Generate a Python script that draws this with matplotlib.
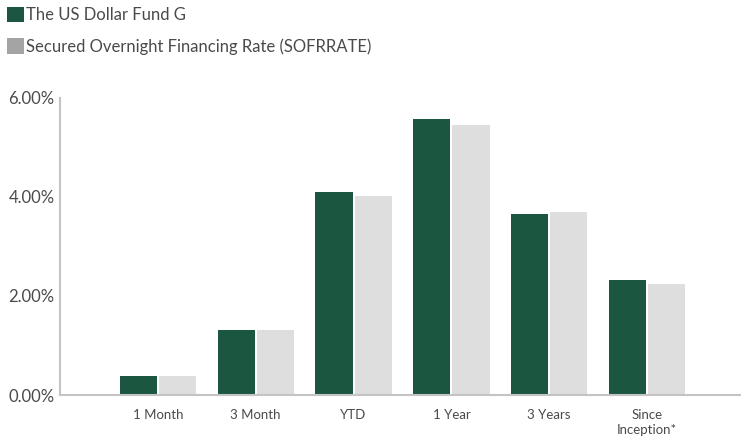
import numpy as np
import matplotlib
matplotlib.use("Agg")
import matplotlib.pyplot as plt
from matplotlib.patches import Patch
from matplotlib.ticker import FuncFormatter

categories = ['1 Month', '3 Month', 'YTD', '1 Year', '3 Years', 'Since\nInception*']
fund_g = [0.38, 1.31, 4.11, 5.58, 3.66, 2.32]
sofr = [0.38, 1.31, 4.03, 5.45, 3.69, 2.24]
series_names = ['The US Dollar Fund G', 'Secured Overnight Financing Rate (SOFRRATE)']

green = '#1b5640'
light = '#dedede'
legend_gray = '#a3a5a4'
text_col = '#4a4a4a'

plt.rcParams['font.family'] = ['Lato', 'DejaVu Sans']

fig = plt.figure(figsize=(7.41, 4.41), dpi=100)
ax = fig.add_axes([60 / 741, 1 - 395 / 441, 1 - 60 / 741, (395 - 98) / 441])

x = np.arange(len(categories))
width = 0.38
ax.bar(x - width / 2 - 0.01, fund_g, width, color=green)
ax.bar(x + width / 2 + 0.01, sofr, width, color=light)

ax.set_xlim(-1, 5.96)
ax.set_ylim(0, 6)
ax.set_yticks([0, 2, 4, 6])
ax.yaxis.set_major_formatter(FuncFormatter(lambda v, p: f'{v:.2f}%'))
ax.set_xticks(x)
ax.set_xticklabels(categories, fontsize=9.5, color=text_col, linespacing=1.3)
ax.tick_params(axis='x', length=0, pad=10)
ax.tick_params(axis='y', length=0, pad=4, labelsize=12, labelcolor=text_col)

for s in ['top', 'right']:
    ax.spines[s].set_visible(False)
for s in ['left', 'bottom']:
    ax.spines[s].set_color('#c4c4c4')
    ax.spines[s].set_linewidth(1.5)

handles = [Patch(facecolor=green), Patch(facecolor=legend_gray)]
fig.legend(handles, series_names, loc='upper left', bbox_to_anchor=(0.0, 1.0),
           frameon=False, fontsize=12, handlelength=1.05, handleheight=1.05,
           handletextpad=0.1, labelspacing=0.9, borderaxespad=0.2,
           labelcolor=text_col, borderpad=0.2)

fig.savefig('out.png', dpi=100)
